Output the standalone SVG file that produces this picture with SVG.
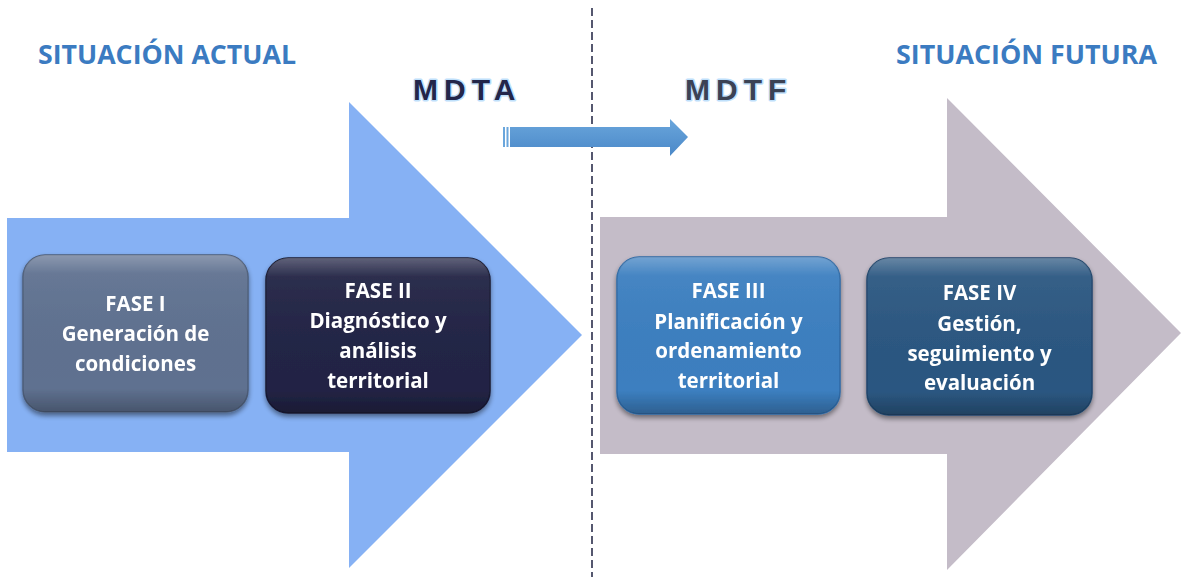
<svg xmlns="http://www.w3.org/2000/svg" width="1181" height="577" viewBox="0 0 1181 577">
<defs>
<style>
.title{font-family:"Open Sans",Lato,"Liberation Sans",sans-serif;font-weight:bold;font-size:26px;fill:#3b7bc1}
.mdt{font-family:"Liberation Sans",Arial,sans-serif;font-weight:bold;font-size:30px;letter-spacing:6px;stroke:#bfe0fb;stroke-width:3px;paint-order:stroke;stroke-linejoin:round}
.lbl{font-family:"Open Sans",Lato,"Liberation Sans",sans-serif;font-weight:bold;font-size:20.5px;fill:#ffffff;text-anchor:middle}
.box{stroke-width:1.5}
</style>
<linearGradient id="shaft" x1="0" y1="0" x2="0" y2="1">
<stop offset="0" stop-color="#6aa6dc"/>
<stop offset="1" stop-color="#4a88c8"/>
</linearGradient>
<linearGradient id="gloss" x1="0" y1="0" x2="0" y2="1">
<stop offset="0" stop-color="#ffffff" stop-opacity="0.28"/>
<stop offset="0.12" stop-color="#ffffff" stop-opacity="0.05"/>
<stop offset="0.85" stop-color="#000000" stop-opacity="0"/>
<stop offset="1" stop-color="#000000" stop-opacity="0.25"/>
</linearGradient>
<filter id="sh" x="-10%" y="-10%" width="120%" height="125%">
<feGaussianBlur in="SourceAlpha" stdDeviation="2.5"/>
<feOffset dx="0" dy="3" result="b"/>
<feComponentTransfer><feFuncA type="linear" slope="0.45"/></feComponentTransfer>
<feMerge><feMergeNode/><feMergeNode in="SourceGraphic"/></feMerge>
</filter>
</defs>
<rect width="1181" height="577" fill="#ffffff"/>

<g id="arrow-actual">
<polygon points="7,218 349,218 349,102 582,335 349,568 349,452 7,452" fill="#86b1f4"/>
</g>
<g id="arrow-futura">
<polygon points="600,217 947,217 947,98 1181,333 947,570 947,454 600,454" fill="#c4bcc8"/>
</g>

<g id="divider">
<line x1="592" y1="8" x2="592" y2="577" stroke="#2b2f4c" stroke-width="1.6" stroke-dasharray="8,4"/>
</g>

<g id="title-actual"><text class="title" x="38" y="64" textLength="258" lengthAdjust="spacingAndGlyphs">SITUACIÓN ACTUAL</text></g>
<g id="title-futura"><text class="title" x="896" y="64" textLength="261" lengthAdjust="spacingAndGlyphs">SITUACIÓN FUTURA</text></g>

<g id="mdta"><text class="mdt" x="413" y="100" fill="#23264a">MDTA</text></g>
<g id="mdtf"><text class="mdt" x="685" y="100" fill="#3b4254">MDTF</text></g>

<g id="connectors">
<polygon points="510,127 670,127 670,119 688,137 670,156 670,147 510,147" fill="url(#shaft)"/>
<rect x="503" y="127" width="2" height="20" fill="#6aa6dc"/>
<rect x="506.5" y="127" width="2" height="20" fill="#6aa6dc"/>
</g>

<g id="fase1" filter="url(#sh)">
<rect class="box" x="23" y="255" width="225" height="157" rx="22" fill="#5f7190" stroke="#4d5d78"/>
<rect x="23" y="255" width="225" height="157" rx="22" fill="url(#gloss)"/>
<text class="lbl" x="135.5" y="311">FASE I</text>
<text class="lbl" x="135.5" y="341">Generación de</text>
<text class="lbl" x="135.5" y="371">condiciones</text>
</g>

<g id="fase2" filter="url(#sh)">
<rect class="box" x="266" y="258" width="224" height="155" rx="22" fill="#222445" stroke="#181a33"/>
<rect x="266" y="258" width="224" height="155" rx="22" fill="url(#gloss)"/>
<text class="lbl" x="378" y="298">FASE II</text>
<text class="lbl" x="378" y="328">Diagnóstico y</text>
<text class="lbl" x="378" y="358">análisis</text>
<text class="lbl" x="378" y="388">territorial</text>
</g>

<g id="fase3" filter="url(#sh)">
<rect class="box" x="617" y="257" width="223" height="157" rx="22" fill="#3c7fc0" stroke="#2f6aa5"/>
<rect x="617" y="257" width="223" height="157" rx="22" fill="url(#gloss)"/>
<text class="lbl" x="728.5" y="298">FASE III</text>
<text class="lbl" x="728.5" y="329">Planificación y</text>
<text class="lbl" x="728.5" y="358">ordenamiento</text>
<text class="lbl" x="728.5" y="388">territorial</text>
</g>

<g id="fase4" filter="url(#sh)">
<rect class="box" x="867" y="258" width="225" height="157" rx="22" fill="#2b5781" stroke="#20466c"/>
<rect x="867" y="258" width="225" height="157" rx="22" fill="url(#gloss)"/>
<text class="lbl" x="979.5" y="300">FASE IV</text>
<text class="lbl" x="979.5" y="331">Gestión,</text>
<text class="lbl" x="979.5" y="361">seguimiento y</text>
<text class="lbl" x="979.5" y="390">evaluación</text>
</g>
</svg>
